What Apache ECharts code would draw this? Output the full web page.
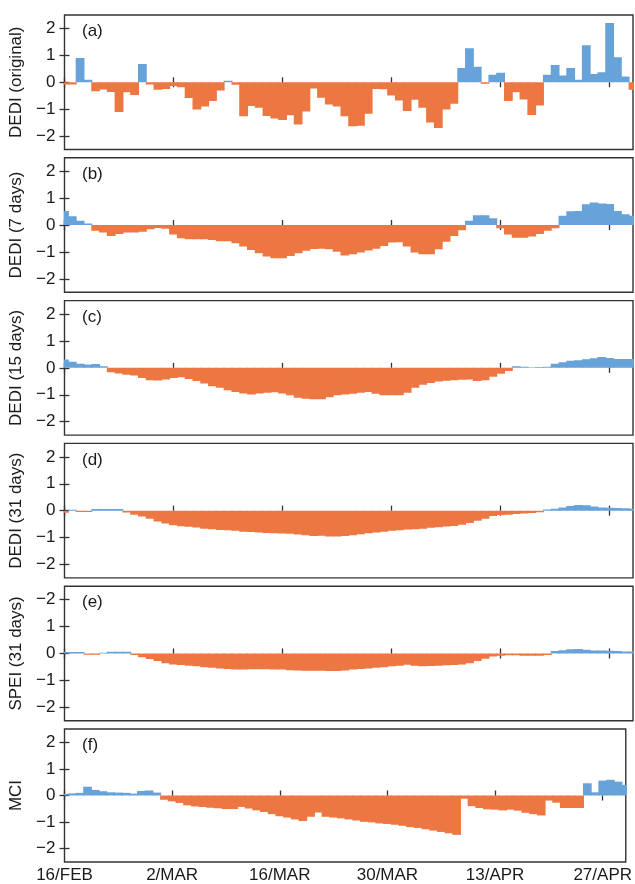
<!DOCTYPE html>
<html>
<head>
<meta charset="utf-8">
<script src="https://cdn.jsdelivr.net/npm/echarts@6/dist/echarts.min.js"></script>
<style>
  html, body { margin: 0; padding: 0; background: #fff; }
  #chart { width: 635px; height: 884px; }
</style>
</head>
<body>
<div id="chart"></div>
<script>
// Day offsets counted from 16 Feb; the axis runs from 16 Feb to 1 May.
const tickDays = [0, 14, 28, 42, 56, 70];
const tickLabels = ['16/FEB', '2/MAR', '16/MAR', '30/MAR', '13/APR', '27/APR'];

const panelLetters = ['(a)', '(b)', '(c)', '(d)', '(e)', '(f)'];
const panelNames = ['DEDI (original)', 'DEDI (7 days)', 'DEDI (15 days)', 'DEDI (31 days)', 'SPEI (31 days)', 'MCI'];

const yTicks = [-2, -1, 0, 1, 2];
const yLabels = ['\u22122', '\u22121', '0', '1', '2'];
const yLabelsSpei = ['\u22122', '\u22121', '0', '1', '\u22122'];

// Daily index values, 16 Feb .. 1 May
const dediOriginal = [
  -0.08, -0.08, 0.9, 0.09, -0.33, -0.27, -0.36, -1.11, -0.37, -0.47,
  0.68, -0.08, -0.28, -0.25, -0.14, -0.19, -0.59, -1.01, -0.9, -0.7,
  -0.31, 0.06, -0.09, -1.26, -0.88, -0.95, -1.25, -1.35, -1.4, -1.23,
  -1.57, -1.09, -0.23, -0.58, -0.83, -0.9, -1.26, -1.64, -1.62, -1.17,
  -0.25, -0.26, -0.49, -0.68, -1.07, -0.65, -0.95, -1.5, -1.7, -1.01,
  -0.8, 0.53, 1.26, 0.58, -0.06, 0.28, 0.35, -0.7, -0.37, -0.64,
  -1.22, -0.86, 0.28, 0.64, 0.25, 0.53, 0.09, 1.38, 0.31, 0.37,
  2.2, 0.93, 0.21, -0.28
];
const dedi7 = [
  0.52, 0.33, 0.16, 0.06, -0.21, -0.28, -0.41, -0.33, -0.28, -0.28,
  -0.25, -0.16, -0.11, -0.14, -0.35, -0.49, -0.53, -0.53, -0.53, -0.56,
  -0.6, -0.6, -0.68, -0.8, -0.93, -1.05, -1.17, -1.23, -1.23, -1.15,
  -1.05, -0.96, -0.89, -0.88, -0.9, -0.99, -1.13, -1.09, -1.02, -0.95,
  -0.88, -0.78, -0.65, -0.64, -0.8, -1.02, -1.09, -1.09, -0.9, -0.62,
  -0.41, -0.19, 0.16, 0.36, 0.36, 0.25, -0.12, -0.35, -0.47, -0.47,
  -0.43, -0.33, -0.21, -0.12, 0.35, 0.51, 0.52, 0.77, 0.84, 0.8,
  0.78, 0.52, 0.4, 0.35
];
const dedi15 = [
  0.31, 0.23, 0.15, 0.12, 0.14, 0.06, -0.16, -0.21, -0.26, -0.28,
  -0.38, -0.46, -0.47, -0.43, -0.38, -0.35, -0.41, -0.49, -0.58, -0.68,
  -0.74, -0.83, -0.9, -0.95, -0.99, -0.95, -0.93, -0.91, -0.95, -1.02,
  -1.11, -1.15, -1.17, -1.17, -1.09, -1.02, -0.99, -0.96, -0.93, -0.9,
  -0.96, -1.02, -1.02, -1.02, -0.93, -0.74, -0.63, -0.56, -0.51, -0.48,
  -0.46, -0.44, -0.43, -0.49, -0.46, -0.33, -0.22, -0.12, 0.06, 0.04,
  0.02, 0.03, 0.04, 0.15, 0.21, 0.26, 0.28, 0.32, 0.36, 0.4,
  0.37, 0.33, 0.33, 0.33
];
const dedi31 = [
  -0.08, 0.03, -0.05, -0.05, 0.06, 0.06, 0.06, 0.06, -0.07, -0.15,
  -0.22, -0.3, -0.4, -0.48, -0.54, -0.58, -0.6, -0.63, -0.67, -0.69,
  -0.72, -0.73, -0.75, -0.78, -0.79, -0.81, -0.83, -0.84, -0.85, -0.86,
  -0.89, -0.91, -0.94, -0.93, -0.96, -0.96, -0.94, -0.91, -0.88, -0.84,
  -0.81, -0.78, -0.75, -0.73, -0.7, -0.69, -0.67, -0.64, -0.62, -0.59,
  -0.57, -0.52, -0.46, -0.38, -0.3, -0.2, -0.16, -0.15, -0.12, -0.11,
  -0.09, -0.06, 0.04, 0.07, 0.12, 0.17, 0.21, 0.2, 0.15, 0.12,
  0.11, 0.1, 0.09, 0.07
];
const spei31 = [
  0.05, 0.05, 0.05, -0.05, -0.05, 0.03, 0.06, 0.06, 0.06, -0.06,
  -0.14, -0.21, -0.28, -0.36, -0.41, -0.43, -0.46, -0.48, -0.51, -0.53,
  -0.56, -0.58, -0.6, -0.6, -0.59, -0.59, -0.59, -0.6, -0.6, -0.62,
  -0.63, -0.64, -0.64, -0.64, -0.65, -0.65, -0.63, -0.6, -0.58, -0.56,
  -0.53, -0.51, -0.48, -0.46, -0.42, -0.46, -0.48, -0.47, -0.46, -0.44,
  -0.43, -0.41, -0.36, -0.28, -0.2, -0.11, -0.09, -0.07, -0.07, -0.09,
  -0.09, -0.09, -0.06, 0.09, 0.12, 0.16, 0.17, 0.14, 0.11, 0.11,
  0.1, 0.09, 0.07, 0.07
];
const mci = [
  0.06, 0.08, 0.1, 0.33, 0.21, 0.16, 0.12, 0.11, 0.1, 0.07,
  0.17, 0.19, 0.11, -0.16, -0.22, -0.28, -0.37, -0.41, -0.43, -0.46,
  -0.48, -0.51, -0.51, -0.43, -0.49, -0.56, -0.62, -0.7, -0.78, -0.83,
  -0.9, -0.96, -0.8, -0.64, -0.8, -0.83, -0.86, -0.9, -0.94, -0.99,
  -1.01, -1.05, -1.07, -1.1, -1.14, -1.19, -1.22, -1.27, -1.32, -1.37,
  -1.42, -1.48, -0.12, -0.4, -0.47, -0.52, -0.53, -0.56, -0.53, -0.57,
  -0.65, -0.7, -0.75, -0.19, -0.27, -0.47, -0.47, -0.47, 0.46, 0.12,
  0.56, 0.59, 0.52, 0.4
];

const panelSeries = [dediOriginal, dedi7, dedi15, dedi31, spei31, mci];

const WET = '#67a3d9';
const DRY = '#ed7742';
const FRAME = '#333333';
const TEXT = '#1a1a1a';
const FONT = '"Liberation Sans", Arial, sans-serif';

const gridLeft = 64.5;
const gridWidth = 568.5;
const firstTop = 15;
const panelStep = 142.8;
const panelHeight = 134.5;

const fmtNum = v => (v < 0 ? '\u2212' + Math.abs(v) : String(v));

const grids = [], xAxes = [], yAxes = [], series = [], graphics = [];

panelSeries.forEach((values, i) => {
  const top = firstTop + i * panelStep;
  grids.push({
    left: gridLeft, top: top, width: gridWidth, height: panelHeight,
    show: true, borderColor: FRAME, borderWidth: 1.4, backgroundColor: 'transparent'
  });
  const isLast = i === panelSeries.length - 1;
  const tickCommon = { show: true, inside: true, length: 5, lineStyle: { color: FRAME, width: 1.3 } };
  // bottom axis
  xAxes.push({
    type: 'value', gridIndex: i, min: 0, max: 73, position: 'bottom',
    axisLine: { show: false }, splitLine: { show: false },
    axisTick: Object.assign({ customValues: tickDays }, tickCommon),
    axisLabel: {
      show: isLast, customValues: tickDays, margin: 5,
      color: TEXT, fontSize: 17, fontFamily: FONT,
      formatter: v => { const k = tickDays.indexOf(v); return k >= 0 ? tickLabels[k] : ''; }
    }
  });
  // top axis, ticks only
  xAxes.push({
    type: 'value', gridIndex: i, min: 0, max: 73, position: 'top',
    axisLine: { show: false }, splitLine: { show: false },
    axisTick: Object.assign({ customValues: tickDays }, tickCommon),
    axisLabel: { show: false }
  });
  const labels = i === 4 ? yLabelsSpei : yLabels;
  yAxes.push({
    type: 'value', gridIndex: i, min: -2.5, max: 2.5, position: 'left',
    name: panelNames[i], nameLocation: 'middle', nameGap: 35, nameRotate: 90,
    nameTextStyle: { color: TEXT, fontSize: 17, fontFamily: FONT },
    axisLine: { show: false }, splitLine: { show: false },
    axisTick: Object.assign({ customValues: yTicks }, tickCommon),
    axisLabel: {
      customValues: yTicks, margin: 9, color: TEXT, fontSize: 17, fontFamily: FONT,
      formatter: v => { const k = yTicks.indexOf(v); return k >= 0 ? labels[k] : fmtNum(v); }
    }
  });
  yAxes.push({
    type: 'value', gridIndex: i, min: -2.5, max: 2.5, position: 'right',
    axisLine: { show: false }, splitLine: { show: false },
    axisTick: Object.assign({ customValues: yTicks }, tickCommon),
    axisLabel: { show: false }
  });
  series.push({
    type: 'custom',
    xAxisIndex: 2 * i, yAxisIndex: 2 * i,
    clip: true,
    data: values.map((v, d) => [d, v]),
    encode: { x: 0, y: 1 },
    renderItem: (params, api) => {
      const d = api.value(0), v = api.value(1);
      const p0 = api.coord([d - 0.5, 0]);
      const p1 = api.coord([d + 0.5, v]);
      const color = v >= 0 ? WET : DRY;
      // slight overlap so neighbouring days join without hairline seams
      return {
        type: 'rect',
        shape: {
          x: p0[0] - 0.5,
          y: Math.min(p0[1], p1[1]),
          width: p1[0] - p0[0] + 1,
          height: Math.abs(p1[1] - p0[1])
        },
        style: { fill: color }
      };
    }
  });
  graphics.push({
    type: 'text', left: 82, top: top + 8, z: 10,
    style: { text: panelLetters[i], fill: TEXT, font: '17px ' + FONT }
  });
});

const chart = echarts.init(document.getElementById('chart'), null, { renderer: 'canvas' });
chart.setOption({
  animation: false,
  backgroundColor: '#ffffff',
  grid: grids,
  xAxis: xAxes,
  yAxis: yAxes,
  series: series,
  graphic: graphics
});
</script>
</body>
</html>
